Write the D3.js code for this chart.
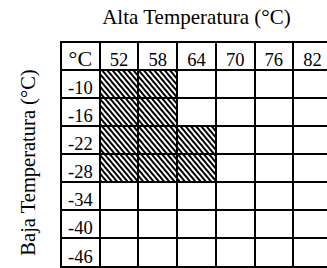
<!DOCTYPE html>
<html>
<head>
<meta charset="utf-8">
<script src="https://cdn.jsdelivr.net/npm/d3@7"></script>
<style>
  body { margin: 0; background: #fff; }
  text { font-family: "Liberation Serif", "Times New Roman", serif; fill: #000; }
</style>
</head>
<body>
<div id="chart"></div>
<script>
// column / row headers
var highTemps = [52, 58, 64, 70, 76, 82];
var lowTemps = [-10, -16, -22, -28, -34, -40, -46];
// hatched cells [low, high]
var shaded = [
  [-10, 52], [-10, 58],
  [-16, 52], [-16, 58],
  [-22, 52], [-22, 58], [-22, 64],
  [-28, 52], [-28, 58], [-28, 64]
];
var cornerLabel = "°C";
var titleText = "Alta Temperatura (°C)";
var yLabelText = "Baja Temperatura (°C)";

var svgWidth = 327;
var svgHeight = 268;

var svg = d3.select("#chart")
  .append("svg")
  .attr("width", svgWidth)
  .attr("height", svgHeight);

var defs = svg.append("defs");
var pattern = defs.append("pattern")
  .attr("id", "hatch")
  .attr("patternUnits", "userSpaceOnUse")
  .attr("width", 4)
  .attr("height", 4)
  .attr("patternTransform", "rotate(-40)");
pattern.append("rect").attr("width", 4).attr("height", 4).attr("fill", "#fff");
pattern.append("rect").attr("width", 2).attr("height", 4).attr("fill", "#000");

var cols = [cornerLabel].concat(highTemps.map(String));
var rows = ["hdr"].concat(lowTemps.map(String));

// scales for the grid
var x = d3.scaleBand().domain(cols).range([61, 61 + 7 * 38.7]);
var y = d3.scaleBand().domain(rows).range([42, 266.5]);

var grid = svg.append("g");

// hatched cells
grid.selectAll(".cell")
  .data(shaded)
  .enter()
  .append("rect")
  .attr("class", "cell")
  .attr("x", d => x(String(d[1])))
  .attr("y", d => y(String(d[0])))
  .attr("width", x.bandwidth())
  .attr("height", y.bandwidth())
  .attr("fill", "url(#hatch)");

// grid lines
var xEdges = cols.map(c => x(c)).concat([x.range()[1]]);
var yEdges = rows.map(r => y(r)).concat([y.range()[1]]);

grid.selectAll(".vline")
  .data(xEdges)
  .enter()
  .append("line")
  .attr("x1", d => Math.round(d))
  .attr("x2", d => Math.round(d))
  .attr("y1", y.range()[0] - 1)
  .attr("y2", y.range()[1] + 1)
  .attr("stroke", "#000")
  .attr("stroke-width", 2);

grid.selectAll(".hline")
  .data(yEdges)
  .enter()
  .append("line")
  .attr("y1", d => Math.round(d))
  .attr("y2", d => Math.round(d))
  .attr("x1", x.range()[0] - 1)
  .attr("x2", x.range()[1] + 1)
  .attr("stroke", "#000")
  .attr("stroke-width", 2);

// header labels
grid.selectAll(".colLabel")
  .data(highTemps)
  .enter()
  .append("text")
  .attr("x", d => x(String(d)) + x.bandwidth() / 2)
  .attr("y", y("hdr") + y.bandwidth() - 4)
  .attr("text-anchor", "middle")
  .attr("font-size", "18.5px")
  .text(d => d);

grid.selectAll(".rowLabel")
  .data(lowTemps)
  .enter()
  .append("text")
  .attr("x", x(cornerLabel) + x.bandwidth() / 2)
  .attr("y", d => y(String(d)) + y.bandwidth() - 4)
  .attr("text-anchor", "middle")
  .attr("font-size", "18.5px")
  .text(d => d);

grid.append("text")
  .attr("x", x(cornerLabel) + x.bandwidth() / 2)
  .attr("y", y("hdr") + y.bandwidth() - 4)
  .attr("text-anchor", "middle")
  .attr("font-size", "22px")
  .text(cornerLabel);

// axis titles
svg.append("text")
  .attr("x", (x.range()[0] + x.range()[1]) / 2)
  .attr("y", 24)
  .attr("text-anchor", "middle")
  .attr("font-size", "21px")
  .text(titleText);

svg.append("text")
  .attr("transform", "translate(35, 162.5) rotate(-90)")
  .attr("text-anchor", "middle")
  .attr("font-size", "20.5px")
  .text(yLabelText);
</script>
</body>
</html>
